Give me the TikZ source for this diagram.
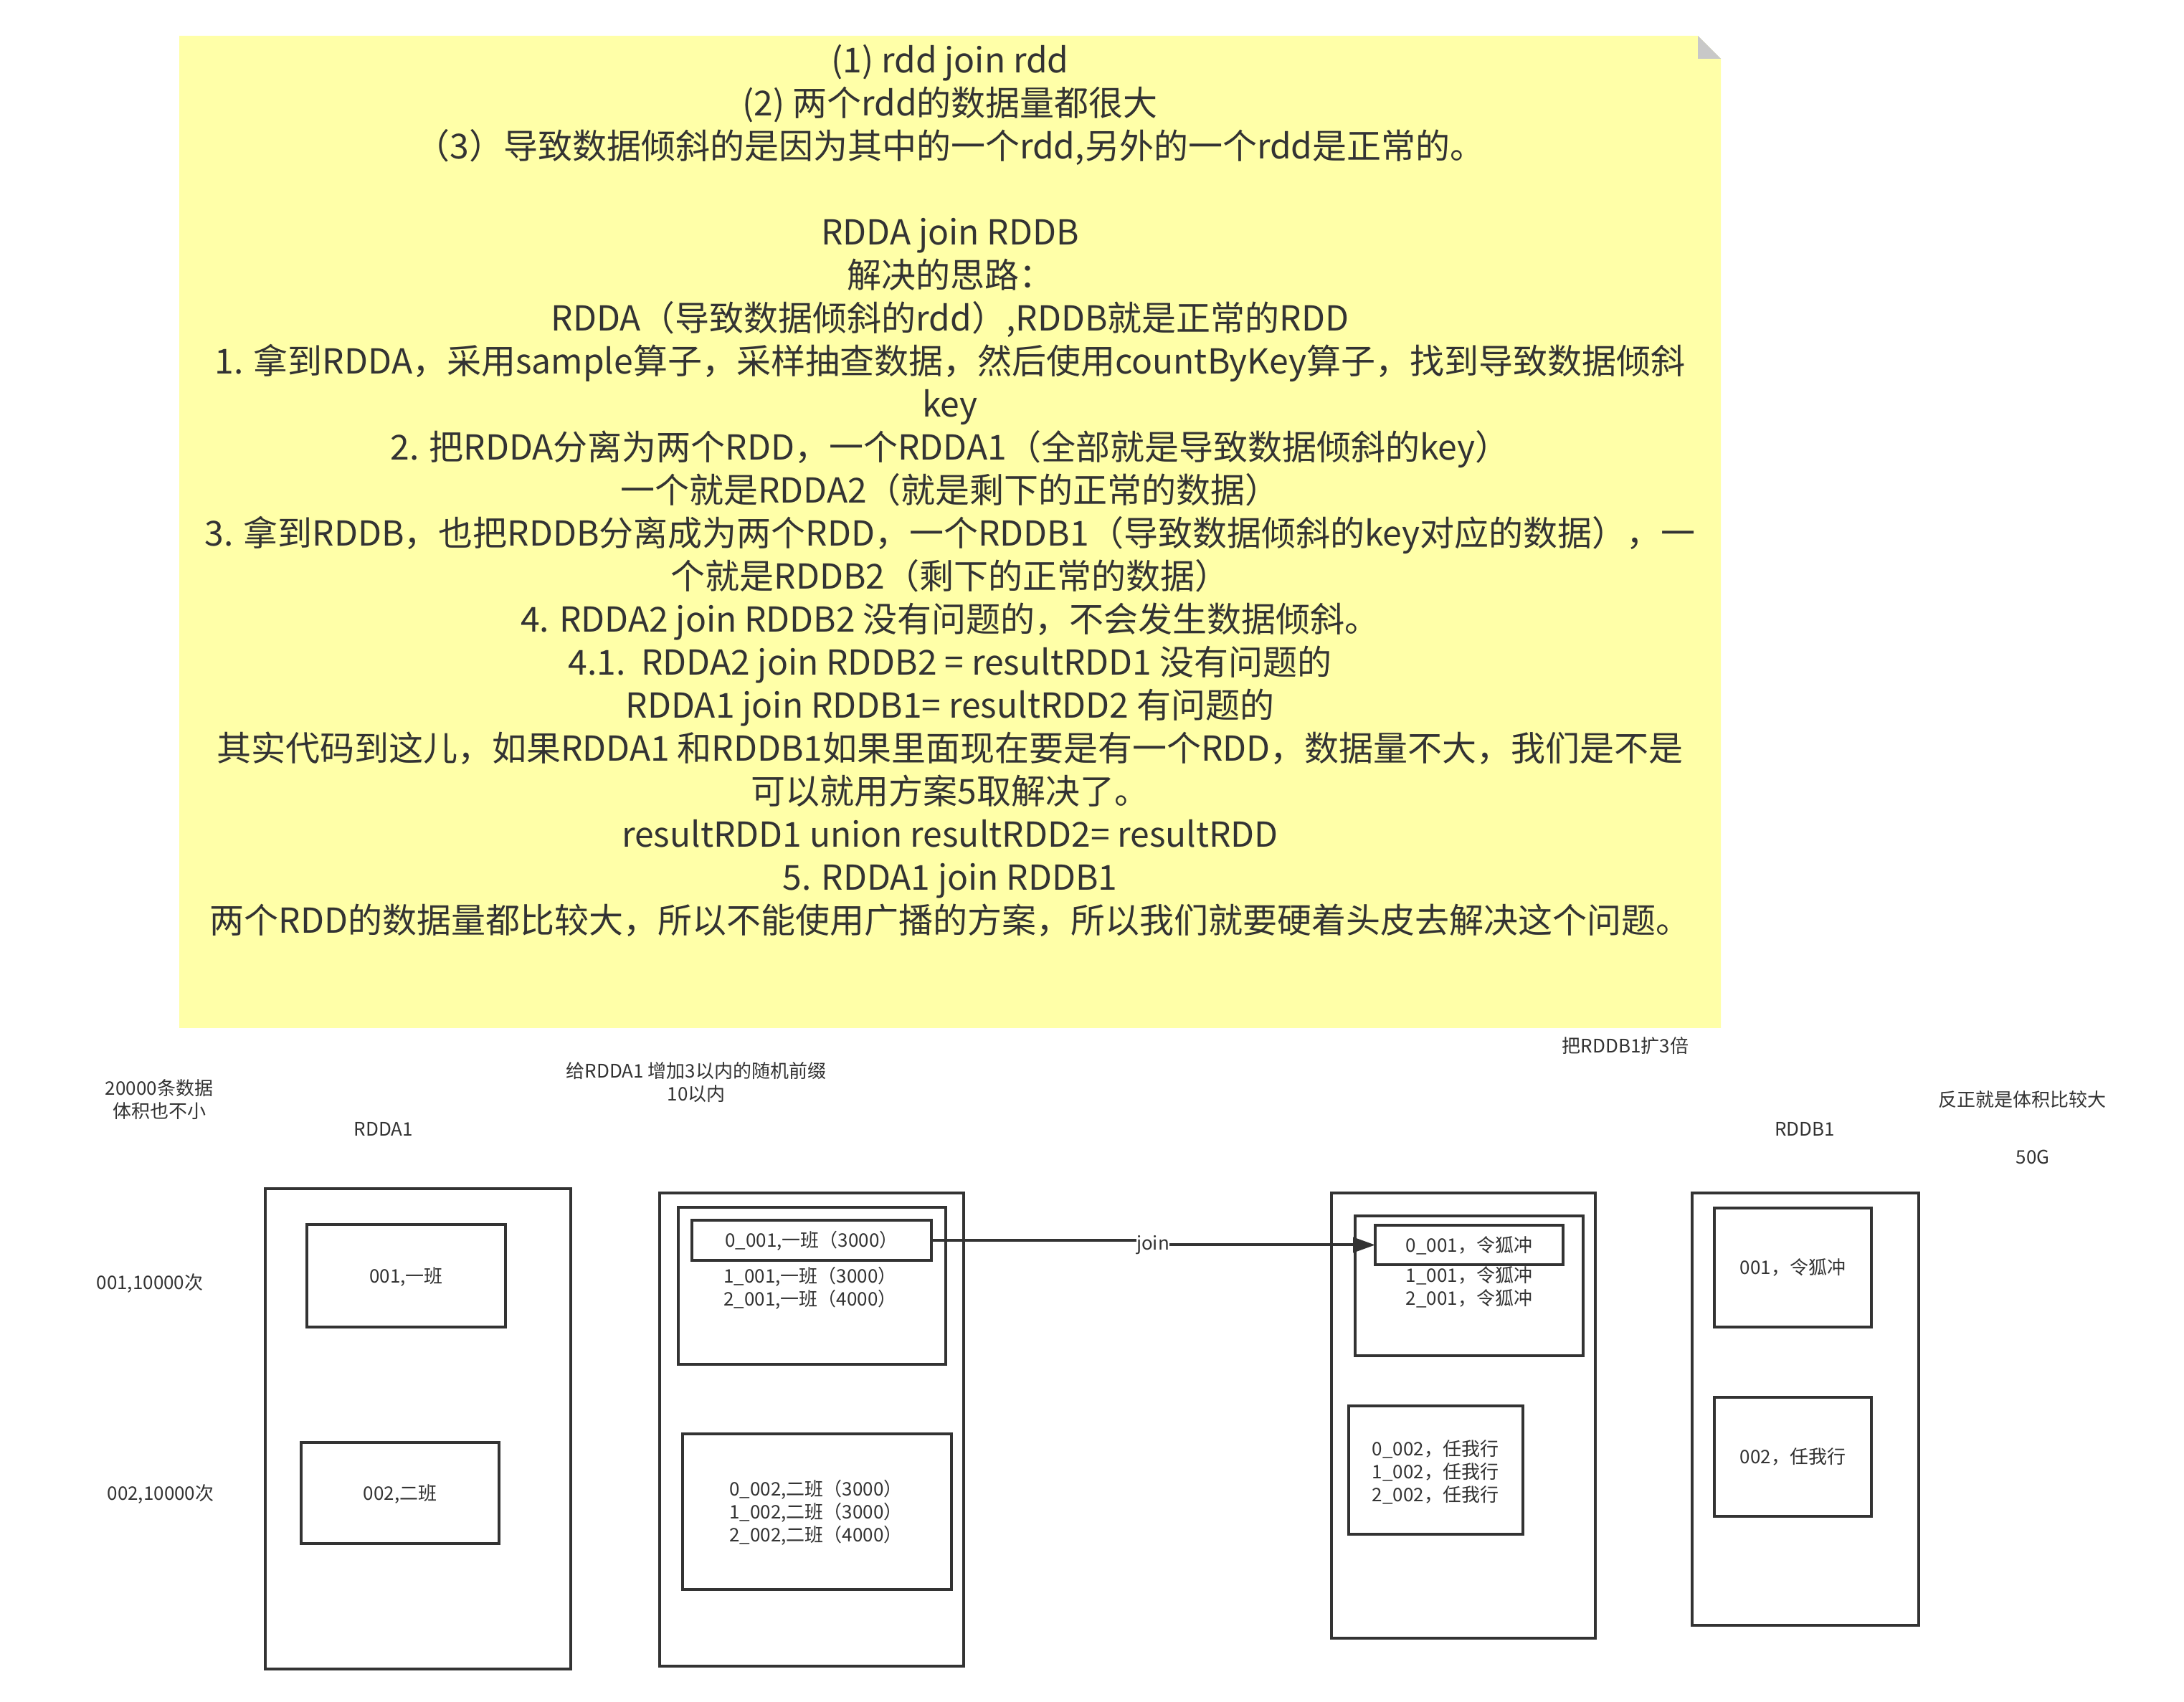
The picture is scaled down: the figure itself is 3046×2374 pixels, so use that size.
\documentclass[tikz,border=0pt]{standalone}
\usepackage{fontspec}
\setmainfont{Noto Sans CJK SC}
\usetikzlibrary{fit,arrows.meta}
\definecolor{ink}{HTML}{333333}
\definecolor{notefill}{RGB}{255,255,168}
\definecolor{notefold}{RGB}{200,200,200}
\begin{document}
\begin{tikzpicture}[x=0.25pt,y=-0.25pt,
  box/.style={draw=ink,line width=1pt,inner sep=0pt,outer sep=0pt},
  big/.style={text=ink,font=\fontsize{12pt}{15pt}\selectfont,inner sep=0pt,
    text height=10.56pt,text depth=1.44pt},
  small/.style={text=ink,font=\fontsize{6.5pt}{8pt}\selectfont,inner sep=0pt,
    text height=5.72pt,text depth=0.78pt},
  link/.style={draw=ink,line width=1pt,-{Triangle[length=7.75pt,width=5.25pt]}},
]
\useasboundingbox (0,0) rectangle (3046,2374);

% sticky note with folded corner
\fill[notefill] (250,50) -- (2368,50) -- (2400,82) -- (2400,1434) -- (250,1434) -- cycle;
\fill[notefold] (2368,50) -- (2400,82) -- (2368,82) -- cycle;

\node[big] (n1)  at (1325,83)   {(1) rdd join rdd};
\node[big] (n2)  at (1325,143)  {(2) 两个rdd的数据量都很大};
\node[big] (n3)  at (1325,203)  {（3）导致数据倾斜的是因为其中的一个rdd,另外的一个rdd是正常的。};
\node[big] (n5)  at (1325,323)  {RDDA join RDDB};
\node[big] (n6)  at (1325,383)  {解决的思路：};
\node[big] (n7)  at (1325,443)  {RDDA（导致数据倾斜的rdd）,RDDB就是正常的RDD};
\node[big] (n8)  at (1325,503)  {1. 拿到RDDA，采用sample算子，采样抽查数据，然后使用countByKey算子，找到导致数据倾斜};
\node[big] (n9)  at (1325,563)  {key};
\node[big] (n10) at (1325,623)  {2. 把RDDA分离为两个RDD，一个RDDA1（全部就是导致数据倾斜的key）};
\node[big] (n11) at (1325,683)  {一个就是RDDA2（就是剩下的正常的数据）};
\node[big] (n12) at (1325,743)  {3. 拿到RDDB，也把RDDB分离成为两个RDD，一个RDDB1（导致数据倾斜的key对应的数据），一};
\node[big] (n13) at (1325,803)  {个就是RDDB2（剩下的正常的数据）};
\node[big] (n14) at (1325,863)  {4. RDDA2 join RDDB2 没有问题的，不会发生数据倾斜。};
\node[big] (n15) at (1325,923)  {4.1.\ \ RDDA2 join RDDB2 = resultRDD1 没有问题的};
\node[big] (n16) at (1325,983)  {RDDA1 join RDDB1= resultRDD2 有问题的};
\node[big] (n17) at (1325,1043) {其实代码到这儿，如果RDDA1 和RDDB1如果里面现在要是有一个RDD，数据量不大，我们是不是};
\node[big] (n18) at (1325,1103) {可以就用方案5取解决了。};
\node[big] (n19) at (1325,1163) {resultRDD1 union resultRDD2= resultRDD};
\node[big] (n20) at (1325,1223) {5. RDDA1 join RDDB1};
\node[big] (n21) at (1325,1283) {两个RDD的数据量都比较大，所以不能使用广播的方案，所以我们就要硬着头皮去解决这个问题。};

% free labels
\node[small] (l1)  at (222,1518)  {20000条数据};
\node[small] (l2)  at (222,1550)  {体积也不小};
\node[small] (l3)  at (535,1575)  {RDDA1};
\node[small] (l4)  at (209,1789)  {001,10000次};
\node[small] (l5)  at (224,2083)  {002,10000次};
\node[small] (l6)  at (971,1494)  {给RDDA1 增加3以内的随机前缀};
\node[small] (l7)  at (971,1526)  {10以内};
\node[small] (l8)  at (2267,1459) {把RDDB1扩3倍};
\node[small] (l9)  at (2820,1534) {反正就是体积比较大};
\node[small] (l10) at (2517,1575) {RDDB1};
\node[small] (l11) at (2835,1614) {50G};

% RDDA1
\node[box,fit={(370,1658)(796,2328)}] (A) {};
\node[box,fit={(428,1708)(705,1851)}] (a1) {};
\node[box,fit={(420,2012)(696,2153)}] (a2) {};
\node[small] (a1t) at (a1) {001,一班};
\node[small] (a2t) at (a2) {002,二班};

% RDDA1 with random prefix
\node[box,fit={(920,1664)(1344,2324)}] (B) {};
\node[box,fit={(946,1684)(1319,1903)}] (bt) {};
\node[box,fit={(965,1702)(1299,1758)}] (bk) {};
\node[box,fit={(952,2000)(1327,2217)}] (bb) {};
\node[small] (bkt) at (bk) {0\_001,一班（3000）};
\node[small] (bt2) at (1130,1780) {1\_001,一班（3000）};
\node[small] (bt3) at (1130,1812) {2\_001,一班（4000）};
\node[small] (bb1) at (1138,2077) {0\_002,二班（3000）};
\node[small] (bb2) at (1138,2109) {1\_002,二班（3000）};
\node[small] (bb3) at (1138,2141) {2\_002,二班（4000）};

% RDDB1 expanded three times
\node[box,fit={(1857,1664)(2225,2285)}] (C) {};
\node[box,fit={(1890,1696)(2208,1891)}] (ct) {};
\node[box,fit={(1918,1709)(2180,1764)}] (ck) {};
\node[box,fit={(1881,1961)(2124,2140)}] (cb) {};
\node[small] (ckt) at (ck) {0\_001，令狐冲};
\node[small] (ct2) at (2049,1779) {1\_001，令狐冲};
\node[small] (ct3) at (2049,1811) {2\_001，令狐冲};
\node[small] (cb1) at (2002,2021) {0\_002，任我行};
\node[small] (cb2) at (2002,2053) {1\_002，任我行};
\node[small] (cb3) at (2002,2085) {2\_002，任我行};

% RDDB1
\node[box,fit={(2360,1664)(2676,2267)}] (D) {};
\node[box,fit={(2391,1685)(2610,1851)}] (d1) {};
\node[box,fit={(2391,1949)(2610,2115)}] (d2) {};
\node[small] (d1t) at (d1) {001，令狐冲};
\node[small] (d2t) at (d2) {002，任我行};

% join connector
\coordinate (jx) at (1608,1734);
\draw[link] (bk.east) -- (bk.east -| jx) -- (ck.west -| jx) -- (ck.west);
\node[small,fill=white] (join) at (jx) {join};
\end{tikzpicture}
\end{document}
